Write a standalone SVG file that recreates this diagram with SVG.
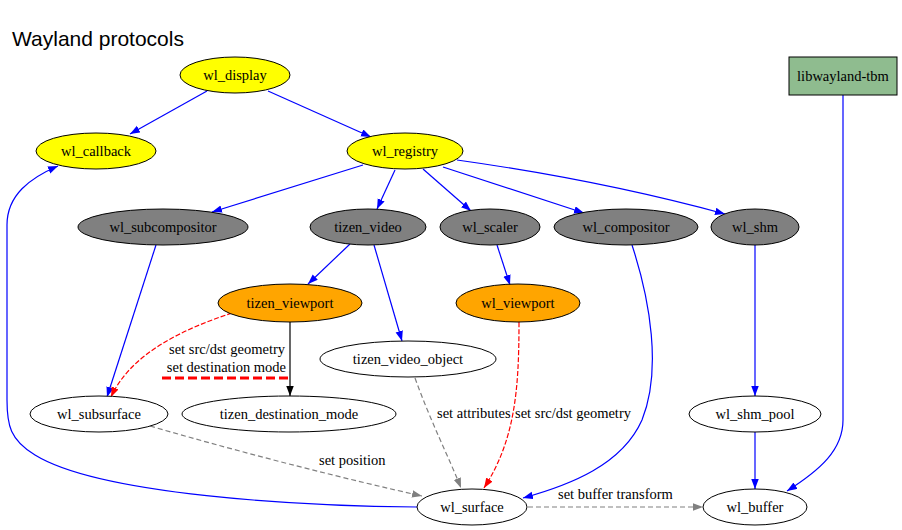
<svg xmlns="http://www.w3.org/2000/svg" width="902" height="530" viewBox="0 0 902 530">
  <defs>
    <marker id="ab" markerUnits="userSpaceOnUse" markerWidth="11" markerHeight="8" refX="10" refY="3.75" orient="auto">
      <path d="M0,0 L10,3.75 L0,7.5 z" fill="#0000ff"/>
    </marker>
    <marker id="ar" markerUnits="userSpaceOnUse" markerWidth="11" markerHeight="8" refX="10" refY="3.75" orient="auto">
      <path d="M0,0 L10,3.75 L0,7.5 z" fill="#ff0000"/>
    </marker>
    <marker id="ag" markerUnits="userSpaceOnUse" markerWidth="11" markerHeight="8" refX="10" refY="3.75" orient="auto">
      <path d="M0,0 L10,3.75 L0,7.5 z" fill="#808080"/>
    </marker>
    <marker id="ak" markerUnits="userSpaceOnUse" markerWidth="11" markerHeight="8" refX="10" refY="3.75" orient="auto">
      <path d="M0,0 L10,3.75 L0,7.5 z" fill="#000000"/>
    </marker>
  </defs>
  <style>
    .title { font-family: "Liberation Sans", Arial, sans-serif; font-size: 21px; fill: #000; }
    .n ellipse, .n rect { stroke: #000; stroke-width: 1; }
    .n text, .lbl { font-family: "Liberation Serif", "Times New Roman", serif; font-size: 14.5px; fill: #000; }
    .n text { text-anchor: middle; }
    .yel { fill: #ffff00; }
    .gry { fill: #808080; }
    .org { fill: #ffa500; }
    .wht { fill: #ffffff; }
    .grn { fill: #8fbc8f; }
    .e { fill: none; stroke-width: 1.2; }
    .blue { stroke: #0000ff; marker-end: url(#ab); }
    .red { stroke: #ff0000; stroke-dasharray: 5,2; marker-end: url(#ar); }
    .gray { stroke: #808080; stroke-dasharray: 5,3; marker-end: url(#ag); }
    .black { stroke: #000000; marker-end: url(#ak); }
  </style>

  <rect width="902" height="530" fill="#ffffff"/>
  <text class="title" x="12" y="46">Wayland protocols</text>

  <g id="edges">
    <path class="e blue" d="M207,91 L130,134"/>
    <path class="e blue" d="M268,91 L371,137"/>
    <path class="e blue" d="M363,165 L212,212"/>
    <path class="e blue" d="M395,170 L377,209"/>
    <path class="e blue" d="M423,169 L471,211"/>
    <path class="e blue" d="M443,167 L584,213"/>
    <path class="e blue" d="M457,160 Q600,180 725,214"/>
    <path class="e blue" d="M350,244 L308,284"/>
    <path class="e blue" d="M374,245 L402,341"/>
    <path class="e blue" d="M497,245 L510,285"/>
    <path class="e blue" d="M156,245 L107,397"/>
    <path class="e red" d="M232,313 C180,330 130,355 111,397"/>
    <path class="e black" d="M290,322 L290,396"/>
    <path class="e gray" d="M415,378 C430,420 450,460 461,488"/>
    <path class="e red" d="M519,322 C519,390 515,440 484,488"/>
    <path class="e blue" d="M632,245 C650,300 662,370 642,420 C622,465 570,485 523,498"/>
    <path class="e blue" d="M755,245 L755,396"/>
    <path class="e blue" d="M755,432 L755,489"/>
    <path class="e blue" d="M843,95 L843,420 C843,450 820,470 787,491"/>
    <path class="e gray" d="M150,426 C250,455 350,480 422,496"/>
    <path class="e gray" d="M528,507 L703,507"/>
    <path class="e blue" d="M417,507 C300,506 100,495 35,455 C10,440 7,425 7,400 L7,225 C7,195 30,178 58,166"/>
    <path d="M162,378 L290,378" fill="none" stroke="#ff0000" stroke-width="3" stroke-dasharray="9,4"/>
    <text class="lbl" x="285" y="354" text-anchor="end">set src/dst geometry</text>
    <text class="lbl" x="286" y="372" text-anchor="end">set destination mode</text>
    <text class="lbl" x="437" y="418">set attributes</text>
    <text class="lbl" x="515" y="418">set src/dst geometry</text>
    <text class="lbl" x="319" y="465">set position</text>
    <text class="lbl" x="558" y="499">set buffer transform</text>
  </g>

  <g id="wl_display" class="n"><ellipse class="yel" cx="235" cy="75" rx="55" ry="18"/><text x="235" y="80">wl_display</text></g>
  <g id="wl_callback" class="n"><ellipse class="yel" cx="96" cy="151" rx="60" ry="18"/><text x="96" y="156">wl_callback</text></g>
  <g id="wl_registry" class="n"><ellipse class="yel" cx="405" cy="151" rx="58" ry="18"/><text x="405" y="156">wl_registry</text></g>
  <g id="libwayland-tbm" class="n"><rect class="grn" x="789" y="57" width="108" height="38"/><text x="843" y="81">libwayland-tbm</text></g>
  <g id="wl_subcompositor" class="n"><ellipse class="gry" cx="163" cy="227" rx="85" ry="18"/><text x="163" y="232">wl_subcompositor</text></g>
  <g id="tizen_video" class="n"><ellipse class="gry" cx="368" cy="227" rx="58" ry="18"/><text x="368" y="232">tizen_video</text></g>
  <g id="wl_scaler" class="n"><ellipse class="gry" cx="490" cy="227" rx="50" ry="18"/><text x="490" y="232">wl_scaler</text></g>
  <g id="wl_compositor" class="n"><ellipse class="gry" cx="626" cy="227" rx="72" ry="18"/><text x="626" y="232">wl_compositor</text></g>
  <g id="wl_shm" class="n"><ellipse class="gry" cx="755" cy="227" rx="44" ry="18"/><text x="755" y="232">wl_shm</text></g>
  <g id="tizen_viewport" class="n"><ellipse class="org" cx="290" cy="303" rx="72" ry="19"/><text x="290" y="308">tizen_viewport</text></g>
  <g id="wl_viewport" class="n"><ellipse class="org" cx="518" cy="303" rx="62" ry="19"/><text x="518" y="308">wl_viewport</text></g>
  <g id="tizen_video_object" class="n"><ellipse class="wht" cx="408" cy="359" rx="88" ry="18"/><text x="408" y="364">tizen_video_object</text></g>
  <g id="wl_subsurface" class="n"><ellipse class="wht" cx="99" cy="414" rx="69" ry="18"/><text x="99" y="419">wl_subsurface</text></g>
  <g id="tizen_destination_mode" class="n"><ellipse class="wht" cx="289" cy="414" rx="107" ry="18"/><text x="289" y="419">tizen_destination_mode</text></g>
  <g id="wl_shm_pool" class="n"><ellipse class="wht" cx="755" cy="414" rx="66" ry="18"/><text x="755" y="419">wl_shm_pool</text></g>
  <g id="wl_surface" class="n"><ellipse class="wht" cx="472" cy="507" rx="55" ry="18"/><text x="472" y="512">wl_surface</text></g>
  <g id="wl_buffer" class="n"><ellipse class="wht" cx="755" cy="507" rx="52" ry="18"/><text x="755" y="512">wl_buffer</text></g>
</svg>
